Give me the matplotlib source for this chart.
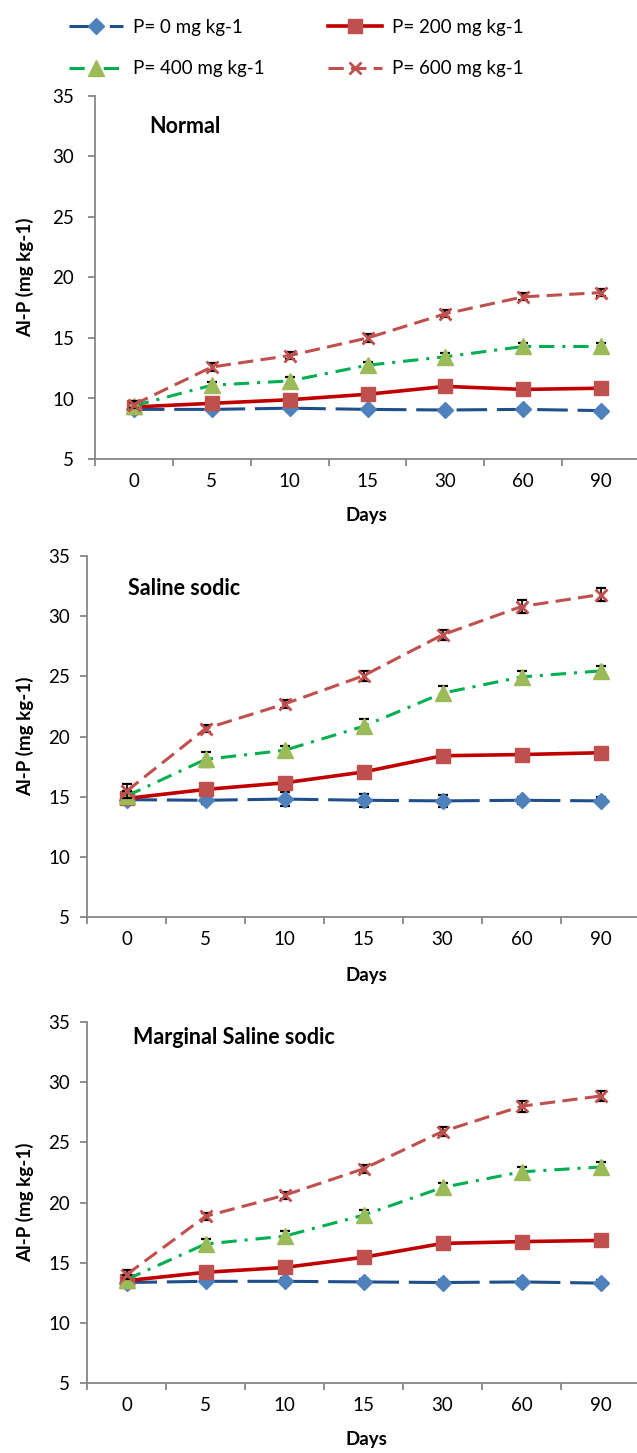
import numpy as np
import matplotlib
matplotlib.use("Agg")
import matplotlib.pyplot as plt
from matplotlib.lines import Line2D

plt.rcParams['font.family'] = ['Lato', 'DejaVu Sans']

# ---------- data ----------
days = ["0", "5", "10", "15", "30", "60", "90"]
labels = ["P= 0 mg kg-1", "P= 200 mg kg-1", "P= 400 mg kg-1", "P= 600 mg kg-1"]
titles = ["Normal", "Saline sodic", "Marginal Saline sodic"]

normal_p0 = [9.1, 9.1, 9.2, 9.1, 9.05, 9.1, 9.0]
normal_p200 = [9.3, 9.6, 9.9, 10.35, 11.0, 10.75, 10.85]
normal_p400 = [9.4, 11.1, 11.45, 12.75, 13.45, 14.3, 14.3]
normal_p600 = [9.5, 12.6, 13.55, 15.0, 17.0, 18.4, 18.75]
normal_err = [[0.15] * 7, [0.15] * 7, [0.3] * 7, [0.3] * 7]

saline_p0 = [14.75, 14.7, 14.8, 14.7, 14.65, 14.7, 14.65]
saline_p200 = [14.85, 15.6, 16.15, 17.05, 18.4, 18.5, 18.65]
saline_p400 = [15.05, 18.1, 18.85, 20.85, 23.6, 24.95, 25.45]
saline_p600 = [15.45, 20.65, 22.7, 25.05, 28.45, 30.8, 31.8]
saline_err = [[0.3, 0.3, 0.6, 0.55, 0.5, 0.3, 0.3], [0.2] * 7,
              [0.4, 0.6, 0.4, 0.6, 0.6, 0.5, 0.4], [0.6, 0.3, 0.3, 0.4, 0.4, 0.55, 0.55]]

marginal_p0 = [13.35, 13.45, 13.45, 13.4, 13.35, 13.4, 13.3]
marginal_p200 = [13.5, 14.2, 14.6, 15.45, 16.6, 16.75, 16.85]
marginal_p400 = [13.6, 16.55, 17.2, 18.95, 21.25, 22.55, 22.95]
marginal_p600 = [14.0, 18.85, 20.6, 22.8, 25.9, 28.0, 28.85]
marginal_err = [[0.25] * 7, [0.2] * 7, [0.4] * 7, [0.35, 0.3, 0.3, 0.35, 0.4, 0.45, 0.45]]

panels = [
    (normal_p0, normal_p200, normal_p400, normal_p600, normal_err),
    (saline_p0, saline_p200, saline_p400, saline_p600, saline_err),
    (marginal_p0, marginal_p200, marginal_p400, marginal_p600, marginal_err),
]

# ---------- styles ----------
styles = [
    dict(color="#1F4E8C", dashes=[10, 3.2], lw=2.2, marker="D", ms=8.5, mfc="#4F81BD", mec="#4F81BD"),
    dict(color="#C00000", dashes=None, lw=2.6, marker="s", ms=10, mfc="#C0504D", mec="#C0504D"),
    dict(color="#00B050", dashes=[5, 2.6, 1, 2.6], lw=2.2, marker="^", ms=11.5, mfc="#9BBB59", mec="#9BBB59"),
    dict(color="#C0504D", dashes=[5, 2.4], lw=2.2, marker="x", ms=9, mfc="#C0504D", mec="#C0504D"),
]

W, H = 637, 1453
fig = plt.figure(figsize=(W / 100, H / 100), dpi=100)

# axes boxes in pixels: left, top(35), bottom(5), right
boxes = [(95, 96, 459, 640), (87, 556, 917, 640), (87, 1022, 1383, 640)]
title_pos = [(0.10, 0.915), (0.074, 0.911), (0.083, 0.956)]
ypads = [10, 7, 7]
days_y = [515, 976, 1440]
grey = "#878787"

for k, (box, data) in enumerate(zip(boxes, panels)):
    l, t, b, r = box
    ax = fig.add_axes([l / W, 1 - b / H, (r - l) / W, (b - t) / H])
    x = np.arange(len(days))
    errs = data[4]
    for i in range(4):
        st = styles[i]
        # error bars sit under the markers, as in the original
        ax.errorbar(x, data[i], yerr=errs[i], fmt="none", ecolor="black", elinewidth=1.2,
                    capsize=3.5, capthick=1.6, zorder=2 + 2 * i)
        ln, = ax.plot(x, data[i], color=st["color"], lw=st["lw"], marker=st["marker"],
                      ms=st["ms"], mfc=st["mfc"], mec=st["mec"],
                      mew=2.0 if st["marker"] == "x" else 1.0, zorder=3 + 2 * i, clip_on=False)
        if st["dashes"]:
            ln.set_dashes(st["dashes"])

    ax.set_xlim(-0.5, 6.5)
    ax.set_ylim(5, 35)
    ax.set_yticks(range(5, 36, 5))
    ax.set_xticks(x)
    ax.set_xticklabels(days)
    ax.set_xticks(np.arange(-0.5, 6.0, 1.0), minor=True)
    for s in ["top", "right"]:
        ax.spines[s].set_visible(False)
    for s in ["left", "bottom"]:
        ax.spines[s].set_color(grey)
        ax.spines[s].set_linewidth(1.3)
    ax.tick_params(axis="y", direction="out", length=5, width=1.3, color=grey,
                   labelsize=13.5, pad=ypads[k])
    ax.tick_params(axis="x", which="major", length=0, labelsize=13.5, pad=10)
    ax.tick_params(axis="x", which="minor", direction="out", length=5, width=1.3, color=grey)
    ax.text(title_pos[k][0], title_pos[k][1], titles[k], transform=ax.transAxes,
            fontsize=15.5, fontweight="bold", ha="left", va="center")
    fig.text(25 / W, 1 - ((t + b) / 2) / H, "Al-P (mg kg-1)", rotation=90,
             fontsize=13.5, fontweight="bold", ha="center", va="center")
    fig.text(366 / W, 1 - days_y[k] / H, "Days", fontsize=13.5, fontweight="bold",
             ha="center", va="center")

# legend at top, two columns filled row by row (matplotlib fills by column)
leg_handles = []
for st in styles:
    h = Line2D([], [], color=st["color"], lw=st["lw"], marker=st["marker"], ms=st["ms"],
               mfc=st["mfc"], mec=st["mec"], mew=2.0 if st["marker"] == "x" else 1.0)
    if st["dashes"]:
        h.set_dashes(st["dashes"])
    leg_handles.append(h)
order = [0, 2, 1, 3]
fig.legend([leg_handles[i] for i in order], [labels[i] for i in order], ncol=2,
           loc="upper left", bbox_to_anchor=(52 / W, 1 - 2 / H),
           frameon=False, fontsize=13.5, handlelength=2.9, handletextpad=0.5,
           columnspacing=3.4, labelspacing=1.3, numpoints=1)

fig.savefig("out.png", dpi=100)
